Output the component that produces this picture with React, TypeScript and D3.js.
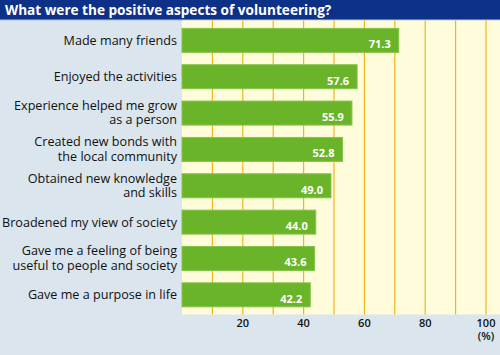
import React from "react";
import * as d3 from "d3";

const categories: string[][] = [
  ["Made many friends"],
  ["Enjoyed the activities"],
  ["Experience helped me grow", "as a person"],
  ["Created new bonds with", "the local community"],
  ["Obtained new knowledge", "and skills"],
  ["Broadened my view of society"],
  ["Gave me a feeling of being", "useful to people and society"],
  ["Gave me a purpose in life"],
];
const values: number[] = [71.3, 57.6, 55.9, 52.8, 49.0, 44.0, 43.6, 42.2];
const tickLabels: number[] = [20, 40, 60, 80, 100];
const gridValues: number[] = [10, 20, 30, 40, 50, 60, 70, 80, 90, 100];
const title = "What were the positive aspects of volunteering?";

export default function App() {
  const W = 500, H = 355;
  const plotL = 182, plotR = 500, plotT = 20.5, plotB = 314.5;
  const x = d3.scaleLinear().domain([0, 100]).range([182, 486]);
  const y = d3
    .scaleBand<number>()
    .domain(d3.range(categories.length))
    .range([22.2, 313])
    .paddingInner(0.34)
    .paddingOuter(0.17);
  const font = "'Open Sans', 'DejaVu Sans', sans-serif";
  return (
    <div style={{ position: "absolute", left: 0, top: 0 }}>
      <svg width={W} height={H} style={{ display: "block" }}>
        <rect x={0} y={0} width={W} height={H} fill="#dae5ee" />
        <rect x={0} y={0} width={W} height={19.5} fill="#0d3186" />
        <rect x={0} y={19} width={W} height={1.2} fill="#5c7bb8" />
        <text x={5} y={15} fill="#ffffff" fontFamily={font} fontWeight={700} fontSize={13.6}>
          {title}
        </text>
        <rect x={plotL} y={plotT} width={plotR - plotL} height={plotB - plotT} fill="#fffcdc" />
        {gridValues.map((g) => (
          <line key={g} x1={x(g)} x2={x(g)} y1={plotT} y2={plotB} stroke="#f5b21e" strokeWidth={1.2} />
        ))}
        {values.map((v, i) => {
          const by = y(i)!;
          const bh = y.bandwidth();
          return (
            <g key={i}>
              <rect x={x(0)} y={by} width={x(v) - x(0)} height={bh} fill="#6ab42a" stroke="#84c447" strokeWidth={1} />
              <text x={x(v) - 8} y={by + bh - 4} textAnchor="end" fill="#ffffff" fontFamily={font} fontWeight={700} fontSize={11}>
                {v.toFixed(1)}
              </text>
            </g>
          );
        })}
        {categories.map((lines, i) => {
          const cy = y(i)! + y.bandwidth() / 2;
          const lh = 14.3;
          const start = cy - ((lines.length - 1) * lh) / 2 + 4.5 - (lines.length > 1 ? 0.5 : 0);
          return (
            <text key={i} textAnchor="end" fill="#111" fontFamily={font} fontSize={12.6}>
              {lines.map((l, j) => (
                <tspan key={j} x={177} y={start + j * lh}>
                  {l}
                </tspan>
              ))}
            </text>
          );
        })}
        {tickLabels.map((t) => (
          <text key={t} x={x(t)} y={327} textAnchor="middle" fill="#111" fontFamily={font} fontWeight={600} fontSize={11}>
            {t}
          </text>
        ))}
        <text x={x(100)} y={339.5} textAnchor="middle" fill="#111" fontFamily={font} fontWeight={600} fontSize={11}>
          (%)
        </text>
      </svg>
    </div>
  );
}
